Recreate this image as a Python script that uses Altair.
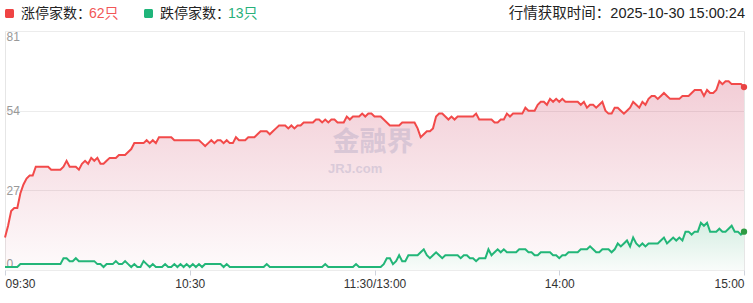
import altair as alt
import pandas as pd

# ---------------- data ----------------
tick_minutes = [0, 60, 120, 180, 240]
tick_labels = ["09:30", "10:30", "11:30/13:00", "14:00", "15:00"]
y_ticks = [0, 27, 54, 81]

series_names = ["涨停家数", "跌停家数"]
fetch_label = "行情获取时间：2025-10-30 15:00:24"

# limit-up count, one value per trading minute (09:30 ... 11:30 / 13:00 ... 15:00)
up_counts = [
    11, 15, 20, 21, 21, 26, 29, 31, 32, 32,
    35, 35, 35, 35, 35, 34, 34, 34, 34, 35,
    37, 35, 35, 35, 34, 36, 37, 36, 38, 37,
    38, 36, 36, 37, 38, 38, 38, 39, 39, 39,
    40, 41, 43, 43, 43, 43, 44, 43, 44, 43,
    45, 45, 45, 45, 45, 44, 44, 44, 44, 44,
    44, 44, 44, 44, 43, 42, 43, 44, 43, 44,
    44, 43, 44, 43, 43, 45, 44, 44, 44, 45,
    45, 45, 46, 47, 47, 47, 46, 47, 48, 49,
    49, 49, 48, 49, 48, 49, 49, 50, 50, 50,
    50, 51, 51, 50, 51, 50, 51, 51, 50, 50,
    50, 52, 51, 52, 52, 52, 53, 52, 53, 53,
    52, 52, 52, 51, 50, 49, 49, 49, 49, 50,
    50, 50, 50, 50, 48, 45, 46, 47, 47, 48,
    52, 53, 53, 52, 51, 52, 51, 52, 52, 52,
    52, 52, 52, 53, 51, 51, 51, 51, 51, 50,
    50, 51, 51, 53, 52, 53, 53, 53, 53, 55,
    54, 54, 54, 56, 57, 57, 56, 58, 57, 58,
    57, 58, 57, 57, 57, 57, 57, 56, 57, 55,
    56, 56, 55, 56, 57, 54, 53, 53, 55, 55,
    54, 53, 54, 55, 57, 56, 55, 57, 56, 58,
    59, 59, 58, 59, 60, 59, 58, 58, 58, 58,
    59, 59, 59, 60, 61, 61, 61, 59, 61, 60,
    60, 61, 64, 63, 64, 64, 63, 63, 63, 63,
    62,
]

# limit-down count, one value per trading minute
down_counts = [
    1, 1, 1, 1, 1, 2, 2, 2, 2, 2,
    2, 2, 2, 2, 2, 2, 2, 2, 2, 4,
    4, 3, 3, 4, 3, 3, 3, 3, 3, 3,
    2, 2, 1, 2, 2, 2, 3, 2, 2, 3,
    2, 1, 2, 1, 1, 3, 2, 1, 2, 1,
    1, 1, 2, 1, 1, 2, 1, 2, 1, 2,
    1, 2, 1, 2, 1, 2, 2, 2, 2, 2,
    2, 1, 2, 1, 1, 1, 1, 1, 1, 1,
    1, 1, 1, 1, 1, 2, 1, 1, 1, 1,
    1, 1, 1, 1, 1, 1, 1, 1, 1, 1,
    1, 1, 1, 1, 2, 1, 1, 1, 1, 1,
    1, 1, 1, 1, 2, 1, 1, 1, 1, 1,
    1, 1, 1, 2, 4, 4, 2, 3, 5, 3,
    3, 5, 5, 5, 5, 6, 7, 5, 4, 5,
    6, 5, 4, 5, 5, 5, 5, 5, 4, 5,
    5, 4, 4, 3, 4, 4, 4, 7, 5, 6,
    7, 6, 7, 6, 6, 6, 6, 7, 7, 7,
    6, 6, 5, 5, 6, 6, 6, 6, 5, 5,
    4, 5, 5, 6, 6, 6, 6, 7, 7, 7,
    8, 7, 6, 6, 7, 7, 7, 6, 7, 9,
    8, 9, 10, 8, 11, 9, 8, 9, 8, 9,
    9, 9, 9, 10, 11, 9, 10, 11, 10, 11,
    10, 13, 13, 12, 13, 13, 16, 15, 16, 13,
    13, 13, 14, 13, 13, 14, 15, 13, 13, 12,
    13,
]

# ---------------- build ----------------
n = len(up_counts)
minutes = list(range(n))
df = pd.DataFrame({
    "minute": minutes + minutes,
    "value": up_counts + down_counts,
    "series": [series_names[0]] * n + [series_names[1]] * n,
})

FONT = "Liberation Sans, Noto Sans CJK SC, sans-serif"
RED = "#f24a4a"
GREEN = "#22b678"

label_expr = " : ".join(
    f"datum.value == {m} ? '{l}'" for m, l in zip(tick_minutes, tick_labels)
) + " : ''"

x_enc = alt.X(
    "minute:Q",
    scale=alt.Scale(domain=[tick_minutes[0], tick_minutes[-1]], nice=False, zero=False),
    axis=alt.Axis(
        values=tick_minutes, labelExpr=label_expr, title=None, grid=False,
        domain=False, ticks=True, tickColor="#cfd3dc", tickSize=5,
        labelFlush=True, labelPadding=3, labelColor="#333333",
        labelFontSize=12, labelFont=FONT,
    ),
)
y_enc = alt.Y(
    "value:Q",
    scale=alt.Scale(domain=[y_ticks[0], y_ticks[-1]], nice=False),
    axis=alt.Axis(
        values=y_ticks, title=None, domain=False, ticks=False,
        labelAlign="left", labelPadding=-1, labelFlush=True,
        labelColor="#999999", labelFontSize=12, labelFont=FONT,
        gridColor="#ececec", gridWidth=1,
    ),
)

base = alt.Chart(df).encode(x=x_enc, y=y_enc)
up = base.transform_filter(alt.datum.series == series_names[0])
down = base.transform_filter(alt.datum.series == series_names[1])

red_area = up.mark_area(
    color=alt.Gradient(
        gradient="linear",
        stops=[
            alt.GradientStop(color="rgba(200,40,78,0.23)", offset=0),
            alt.GradientStop(color="rgba(200,40,78,0.02)", offset=1),
        ],
        x1=1, x2=1, y1=0, y2=1,
    )
)
green_area = down.mark_area(
    color=alt.Gradient(
        gradient="linear",
        stops=[
            alt.GradientStop(color="rgb(214,238,227)", offset=0),
            alt.GradientStop(color="rgb(249,252,250)", offset=1),
        ],
        x1=1, x2=1, y1=0, y2=1,
    )
)
red_line = up.mark_line(color=RED, strokeWidth=2)
green_line = down.mark_line(color=GREEN, strokeWidth=2)

last = tick_minutes[-1]
red_dot = up.transform_filter(alt.datum.minute == last).mark_point(
    filled=True, color="#e84343", size=40, opacity=1)
green_dot = down.transform_filter(alt.datum.minute == last).mark_point(
    filled=True, color="#2e9b43", size=40, opacity=1)

one = alt.Data(values=[{"k": 0}])

wm1 = alt.Chart(one).mark_text(
    text="金融界", font="Noto Sans CJK SC", fontSize=27, fontWeight="bold",
    color="#8c8cb4", opacity=0.27, align="center", baseline="middle",
).encode(x=alt.value(368), y=alt.value(112))
wm2 = alt.Chart(one).mark_text(
    text="JRJ.com", font=FONT, fontSize=13, fontWeight="bold",
    color="#8c8cb4", opacity=0.27, align="left", baseline="middle",
).encode(x=alt.value(323), y=alt.value(138))

red_sq = alt.Chart(one).mark_rect(color="#ef4444", cornerRadius=1.5).encode(
    x=alt.value(0), x2=alt.value(9), y=alt.value(-22), y2=alt.value(-13))
green_sq = alt.Chart(one).mark_rect(color="#1fb57a", cornerRadius=1.5).encode(
    x=alt.value(139), x2=alt.value(148), y=alt.value(-22), y2=alt.value(-13))

def head_text(txt, xpos, color, align="left", size=14):
    return alt.Chart(one).mark_text(
        text=txt, font=FONT, fontSize=size, color=color, align=align,
        baseline="middle",
    ).encode(x=alt.value(xpos), y=alt.value(-17.5))

h1 = head_text(series_names[0] + "：", 16, "#222222")
h2 = head_text(f"{up_counts[-1]}只", 84, "#f25656")
h3 = head_text(series_names[1] + "：", 155, "#222222")
h4 = head_text(f"{down_counts[-1]}只", 223, "#27b07a")
h5 = head_text(fetch_label, 740, "#222222", align="right", size=14.5)

chart = alt.layer(
    red_area, green_area, wm1, wm2, red_line, green_line, red_dot, green_dot,
    red_sq, green_sq, h1, h2, h3, h4, h5,
).properties(
    width=739, height=239,
    autosize=alt.AutoSizeParams(type="none"),
    padding={"left": 5, "top": 31, "right": 9, "bottom": 33},
    background="white",
).configure_view(stroke="#e6e6e6", strokeWidth=1)

chart.save("out.html", embed_options={"renderer": "svg", "actions": False})
